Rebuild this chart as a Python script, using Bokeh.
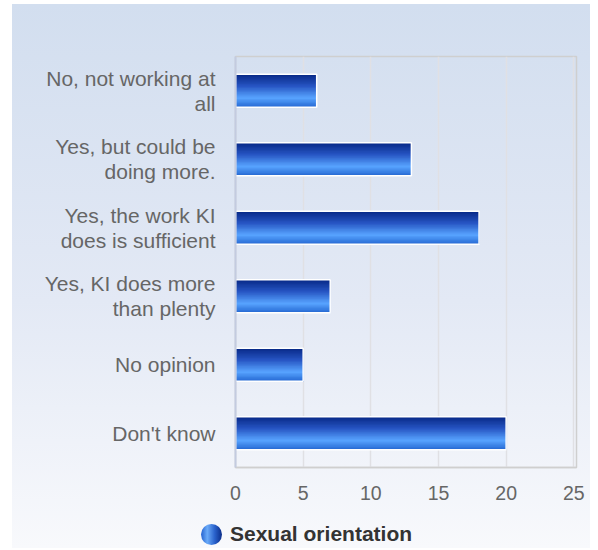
from bokeh.plotting import figure
from bokeh.layouts import column
from bokeh.models import Range1d, FixedTicker, Div
from bokeh.embed import file_html
from bokeh.resources import INLINE

categories = [
    "No, not working at\nall",
    "Yes, but could be\ndoing more.",
    "Yes, the work KI\ndoes is sufficient",
    "Yes, KI does more\nthan plenty",
    "No opinion",
    "Don't know",
]
values = [6, 13, 18, 7, 5, 20]
x_ticks = [0, 5, 10, 15, 20, 25]
series_name = "Sexual orientation"

FONT = "Liberation Sans"

p = figure(
    width=590, height=505,
    output_backend="svg", toolbar_location=None,
    x_range=Range1d(0, 25.2),
    y_range=Range1d(len(categories) - 0.5, -0.5),
    min_border_left=235, min_border_right=14,
    min_border_top=56, min_border_bottom=38,
)
p.background_fill_color = None
p.border_fill_color = None
p.outline_line_color = "#cfcfcf"
p.outline_line_width = 1.5

# gradient bars built from overlapping slices
def lerp(c1, c2, t):
    a = [int(c1[i:i + 2], 16) for i in (1, 3, 5)]
    b = [int(c2[i:i + 2], 16) for i in (1, 3, 5)]
    return "#%02x%02x%02x" % tuple(round(a[k] + (b[k] - a[k]) * t) for k in range(3))

stops = [(0.0, "#072886"), (0.35, "#2654c2"), (0.72, "#58a4ff"), (1.0, "#2468d2")]

def grad(t):
    for (t0, c0), (t1, c1) in zip(stops[:-1], stops[1:]):
        if t <= t1:
            return lerp(c0, c1, (t - t0) / (t1 - t0))
    return stops[-1][1]

bar_h = 0.48
N = 24
ys, hs, rights, cols = [], [], [], []
for i, v in enumerate(values):
    for k in range(N):
        top = i - bar_h / 2 + k * bar_h / N
        ys.append((top + i + bar_h / 2) / 2)
        hs.append(i + bar_h / 2 - top)
        rights.append(v)
        cols.append(grad((k + 0.5) / N))
p.hbar(y=ys, right=rights, left=0, height=hs,
       fill_color=cols, line_color=None)
p.hbar(y=list(range(len(values))), right=values, left=0, height=bar_h,
       fill_color=None, line_color="white", line_width=1.5)

# axes
p.xaxis.ticker = FixedTicker(ticks=x_ticks)
p.yaxis.ticker = FixedTicker(ticks=list(range(len(categories))))
p.yaxis.major_label_overrides = {i: c for i, c in enumerate(categories)}
for ax in (p.xaxis[0], p.yaxis[0]):
    ax.major_tick_line_color = None
    ax.minor_tick_line_color = None
    ax.major_label_text_font = FONT
    ax.major_label_text_color = "#666666"
p.xaxis.major_label_text_font_size = "19.5px"
p.yaxis.major_label_text_font_size = "21px"
p.yaxis.major_label_text_line_height = 1.1
p.xaxis.axis_line_color = "#cfcfcf"
p.xaxis.axis_line_width = 1.5
p.xaxis.major_label_standoff = 12
p.yaxis.axis_line_color = "#c3cbe0"
p.yaxis.axis_line_width = 2
p.yaxis.major_label_standoff = 14
p.xgrid.grid_line_color = "#e0e0e4"
p.xgrid.grid_line_width = 1.5
p.ygrid.grid_line_color = None

# legend (series key) below the chart
legend_html = (
    '<div style="padding-left:201px; padding-top:17px; display:flex; align-items:center; '
    "font-family:'Liberation Sans', Arial, sans-serif; font-weight:bold; font-size:21px; "
    'line-height:24px; color:#333333; white-space:nowrap;">'
    '<span style="display:inline-block; width:21px; height:21px; border-radius:50%; '
    'margin-right:8px; background:linear-gradient(to right, #2563d0 0%, #6aaaf8 30%, '
    '#2a62cc 65%, #0a2c88 100%);"></span>'
    + series_name + "</div>"
)
lg = Div(text=legend_html, width=590, height=43, margin=0)

layout = column(
    p, lg, spacing=0,
    styles={"background": "linear-gradient(to right, #ffffff 12px, rgba(255,255,255,0) 12px), "
                          "linear-gradient(to bottom, #ffffff 4px, #d2deef 4px, #e3e9f5 55%, #f8f9fc 100%)"},
)

open("out.html", "w").write(file_html(layout, INLINE))
